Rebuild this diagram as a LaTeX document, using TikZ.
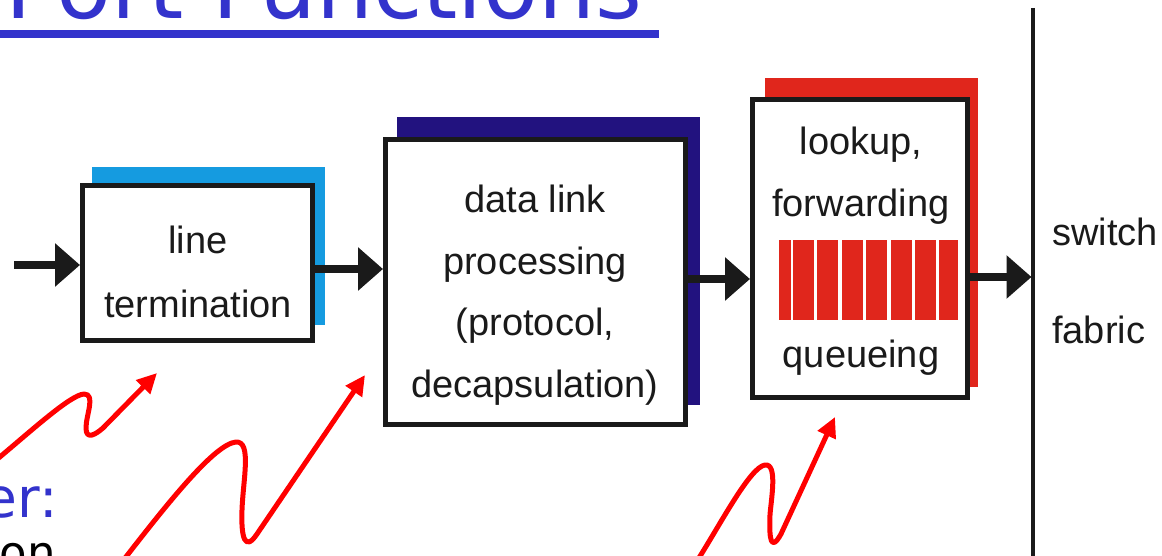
\documentclass[tikz,border=0pt]{standalone}
\usepackage{fontspec}
\setmainfont{Liberation Sans}
\newfontfamily\comicfont{DejaVu Sans}
\usetikzlibrary{arrows.meta}
\definecolor{skyshadow}{HTML}{159BE0}
\definecolor{navyshadow}{HTML}{22127F}
\definecolor{redshadow}{HTML}{E0261C}
\definecolor{titleblue}{HTML}{3333CC}
\definecolor{boxblack}{HTML}{1A1A1A}
\begin{document}
\begin{tikzpicture}[x=1pt,y=-1pt,
  box/.style={draw=boxblack, line width=5pt, fill=white, inner sep=0pt, rectangle},
  lbl/.style={font=\fontsize{38}{46}\selectfont, anchor=base, inner sep=0pt, text=boxblack},
  flow/.style={draw=boxblack, line width=7.5pt, -{Triangle[length=25pt,width=42pt]}},
  squig/.style={draw=red, line width=5pt, line cap=round, line join=round, -{Triangle[length=20pt,width=19pt]}}]
\useasboundingbox (0,0) rectangle (1162,556);
\fill[white] (0,0) rectangle (1162,556);

% title (cut at top)
\node[font=\comicfont\fontsize{90}{100}\selectfont, text=titleblue, anchor=base west, inner sep=0pt] (title) at (5,19) {Port Functions};
\fill[titleblue] (0,30) rectangle (659,38);

% line termination
\fill[skyshadow] (92,167) rectangle (325,325);
\node[box, minimum width=230pt, minimum height=155pt] (b1) at (197.5,263) {};
\node[lbl] (b1a) at (198,254) {line};
\node[lbl] (b1b) at (198,317) {termination};

% data link processing
\fill[navyshadow] (397,117) rectangle (700,405);
\node[box, minimum width=300pt, minimum height=285pt] (b2) at (535.5,282) {};
\node[lbl] (b2a) at (535,213) {data link};
\node[lbl] (b2b) at (535,274) {processing};
\node[lbl] (b2c) at (535,335) {(protocol,};
\node[lbl] (b2d) at (535,397) {decapsulation)};

% lookup, forwarding, queueing
\fill[redshadow] (765,78) rectangle (978,387);
\node[box, minimum width=215pt, minimum height=298pt] (b3) at (860,248.5) {};
\node[lbl] (b3a) at (861,155) {lookup,};
\node[lbl] (b3b) at (861,217) {forwarding};
\node[lbl] (b3c) at (861,367) {queueing};
\foreach \a/\b in {779.3/790.7, 793.3/814, 817.3/838.3, 841.7/862.7, 866/886.7, 890.7/911.7, 915/936, 939.3/958.3}
  \fill[redshadow] (\a,240) rectangle (\b,320);

% switch fabric
\coordinate (sfTop) at (1033,8);
\coordinate (sfBot) at (1033,560);
\draw[draw=boxblack, line width=3.5pt] (sfTop) -- (sfBot);
\node[lbl, anchor=base west] (sw1) at (1052,245) {switch};
\node[lbl, anchor=base west] (sw2) at (1052,343) {fabric};

% flow arrows
\coordinate (in0) at (14,265);
\draw[flow] (in0) -- (in0 -| b1.west);
\coordinate (y2) at (0,269);
\draw[flow] (b1.east |- y2) -- (b2.west |- y2);
\coordinate (y3) at (0,279);
\draw[flow] (b2.east |- y3) -- (b3.west |- y3);
\coordinate (y4) at (0,277);
\coordinate (sfIn) at (1031.5,277);
\draw[flow] (b3.east |- y4) -- (sfIn);

% left texts (cut at left edge)
\node[font=\comicfont\fontsize{55}{60}\selectfont, text=titleblue, anchor=base east, inner sep=0pt] (phys) at (58,517) {physical layer:};
\node[font=\comicfont\fontsize{45}{50}\selectfont, text=black, anchor=base east, inner sep=0pt] (bitl) at (56,568) {bit-level reception};

% red squiggly arrows
\coordinate (sqAs) at (-5,461);
\coordinate (sqAe) at (157,373);
\draw[squig] (sqAs) .. controls (30,432) and (70,395) .. (84,394)
  .. controls (96,394) and (86,415) .. (86,428)
  .. controls (86,440) and (95,435) .. (103,428) -- (sqAe);
\coordinate (sqBs) at (122,562);
\coordinate (sqBe) at (365,375);
\draw[squig] (sqBs) .. controls (170,500) and (215,444) .. (236,442)
  .. controls (252,441) and (243,480) .. (242,510)
  .. controls (241,538) and (245,552) .. (257,534) -- (sqBe);
\coordinate (sqCs) at (697,561);
\coordinate (sqCe) at (835,417);
\draw[squig] (sqCs) .. controls (720,525) and (750,467) .. (765,465)
  .. controls (778,463) and (771,500) .. (770,515)
  .. controls (769,540) and (771,552) .. (781,534) -- (sqCe);
\end{tikzpicture}
\end{document}
